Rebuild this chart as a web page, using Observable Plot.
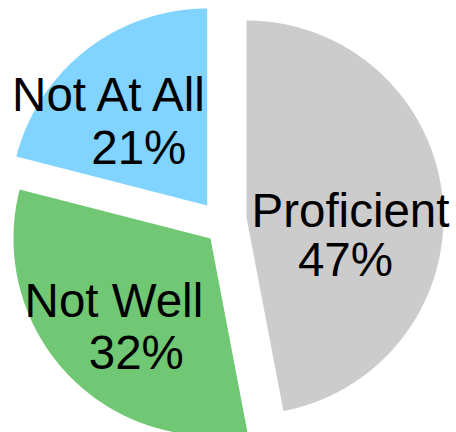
<!DOCTYPE html>
<html>
<head>
<meta charset="utf-8">
<script src="https://cdn.jsdelivr.net/npm/d3@7"></script>
<script src="https://cdn.jsdelivr.net/npm/@observablehq/plot@0.6"></script>
<style>
  html, body { margin: 0; padding: 0; background: #ffffff; overflow: hidden; }
  #chart svg { display: block; }
</style>
</head>
<body>
<div id="chart"></div>
<script>
// ---- data ----
const categories = ["Proficient", "Not Well", "Not At All"];
const values = [47, 32, 21];
const percentLabels = ["47%", "32%", "21%"];

// ---- style / layout ----
const W = 456, H = 432;
const colors = ["#cccccc", "#70c774", "#80d4ff"];
const center = [222, 222];      // pie centre (px)
const radius = 197;             // px
const explode = [[24, -5], [-12, 16], [-15.3, -17]]; // per-slice offset (px)
const labelRadius = 0.55;       // fraction of radius along slice mid-angle
const nameShift = [[-3.9, 19.9], [-17.6, 4.5], [-32.3, -9.3]];
const pctShift = [[-8.9, 68.2], [4.8, 56.1], [-2, 44]];
const fontSize = 47.5;
const fontFamily = "'Liberation Sans', Arial, Helvetica, sans-serif";

const arcs = d3.pie().sort(null).startAngle(0).endAngle(2 * Math.PI)(values);

// slice outlines built from the pie angles
const slices = arcs.map((a, i) => {
  const ox = center[0] + explode[i][0], oy = center[1] + explode[i][1];
  const steps = Math.max(2, Math.ceil((a.endAngle - a.startAngle) / 0.005));
  const pts = [{x: ox, y: oy}];
  for (let k = 0; k <= steps; k++) {
    const t = a.startAngle + (a.endAngle - a.startAngle) * k / steps;
    pts.push({x: ox + radius * Math.sin(t), y: oy - radius * Math.cos(t)});
  }
  return pts;
});

const labels = arcs.map((a, i) => {
  const ox = center[0] + explode[i][0], oy = center[1] + explode[i][1];
  const m = (a.startAngle + a.endAngle) / 2;
  const ax = ox + labelRadius * radius * Math.sin(m);
  const ay = oy - labelRadius * radius * Math.cos(m);
  return {
    name: categories[i], pct: percentLabels[i],
    nx: ax + nameShift[i][0], ny: ay + nameShift[i][1],
    px: ax + pctShift[i][0], py: ay + pctShift[i][1]
  };
});

const chart = Plot.plot({
  width: W, height: H,
  margin: 0,
  style: {background: "#ffffff"},
  x: {domain: [0, W], range: [0, W], axis: null},
  y: {domain: [0, H], range: [0, H], axis: null},
  marks: [
    ...slices.map((pts, i) => Plot.line(pts, {x: "x", y: "y", fill: colors[i], stroke: "none"})),
    Plot.text(labels, {x: "nx", y: "ny", text: "name", fontSize, fontFamily, fill: "#000000", textAnchor: "middle", lineAnchor: "bottom"}),
    Plot.text(labels, {x: "px", y: "py", text: "pct", fontSize, fontFamily, fill: "#000000", textAnchor: "middle", lineAnchor: "bottom"})
  ]
});
document.getElementById("chart").appendChild(chart);
</script>
</body>
</html>
